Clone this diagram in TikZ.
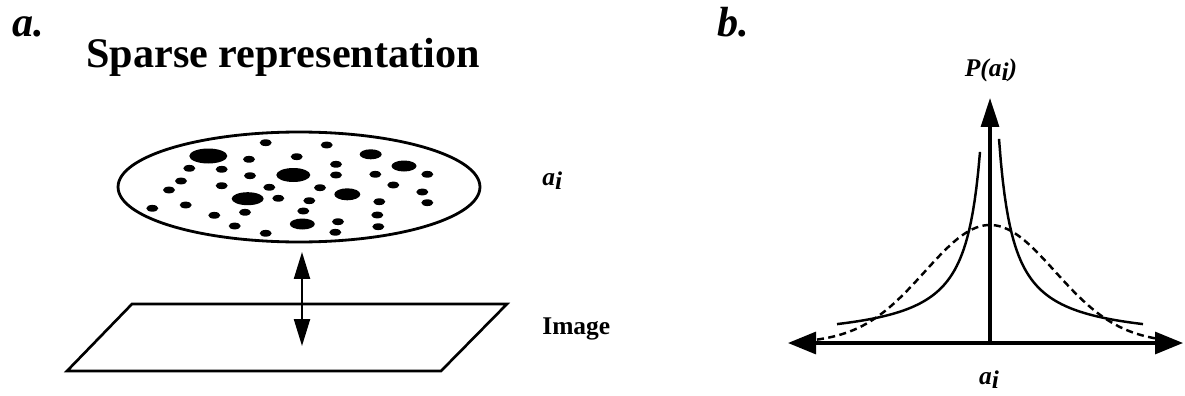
\documentclass[tikz,border=0pt]{standalone}
\usepackage{fontspec}
\setmainfont{Liberation Serif}
\usepackage{tikz}
\usetikzlibrary{arrows.meta,positioning,shapes.geometric}
\newcommand{\coefa}{a\raisebox{-0.35ex}{i}}
\tikzset{
  panellabel/.style={inner sep=0pt,anchor=base west,
    font=\fontsize{24}{27}\selectfont\bfseries\itshape},
  titletext/.style={inner sep=0pt,anchor=base,
    font=\fontsize{24}{28}\selectfont\bfseries},
  smalllabel/.style={inner sep=0pt,anchor=base west,
    font=\fontsize{14.5}{16}\selectfont\bfseries\itshape},
  coefset/.style={draw,ellipse,line width=1.6pt,minimum width=7.24cm,
    minimum height=2.2cm,inner sep=0pt},
  planeline/.style={line width=1.5pt,line join=miter},
  linkarrow/.style={{Triangle[length=5.4mm,width=3.2mm]}-{Triangle[length=5.4mm,width=3.2mm]},
    line width=1.3pt},
  axisarrow/.style={line width=1.8pt},
  sparsecurve/.style={line width=1.4pt},
  gausscurve/.style={line width=1.4pt,dash pattern=on 4pt off 2.5pt}
}
\begin{document}
\begin{tikzpicture}[x=0.02cm,y=-0.02cm]
  \useasboundingbox (0,0) rectangle (1185,395);
  % panel a
  \node[panellabel] (labA) at (12,37) {a.};
  \node[titletext] (title) at (283,68) {Sparse representation};
  \node[coefset] (coef) at (299,187) {};
  \foreach \px/\py/\rx/\ry in {
    265.7/142.7/6/3.4, 326.7/145/6/3.4, 208.3/156/19/7.5, 249/159.3/6/3.4,
    296.7/156.7/6/3.4, 370.7/154.3/11/5, 189.3/168.3/6/3.4, 221.7/169.3/6/3.4,
    336/164.3/6/3.4, 404/166/12.5/5.5, 250/175.7/6/3.4, 293.3/175/17/7,
    336/175/6/3.4, 375.3/174.3/6/3.4, 427.3/174.3/6/3.4, 181/181/6/3.4,
    221.7/185.7/6/3.4, 269.3/187.3/6/3.4, 320/187.7/6/3.4, 393.3/185/6/3.4,
    169/190/6/3.4, 347.3/194.3/13/6, 422.3/192/6/3.4, 247.7/198.7/16/6.5,
    278.3/198.3/6/3.4, 309.3/200.7/6/3.4, 379.3/201.7/6/3.4, 427.3/202.7/6/3.4,
    152.3/208.3/6/3.4, 185.7/205/6/3.4, 245/212.3/6/3.4, 303.3/211/6/3.4,
    214.3/215.3/6/3.4, 377.3/215/6/3.4, 302.3/224/12.5/5.5, 338/221.7/6/3.4,
    234.7/226/6/3.4, 378.3/226.7/6/3.4, 265.7/233.3/6/3.4, 335.3/232.3/6/3.4}
    \fill (\px,\py) ellipse [x radius=\rx,y radius=\ry];
  \node[smalllabel] (coefLab) at (542,185) {\coefa};
  \coordinate (pTL) at (132,304);
  \coordinate (pTR) at (507,304);
  \coordinate (pBR) at (441,371);
  \coordinate (pBL) at (67,371);
  \draw[planeline] (pTL) -- (pTR) -- (pBR) -- (pBL) -- cycle;
  \node[smalllabel] (imgLab) at (542,334) {\upshape Image};
  \coordinate (linkTop) at (302,252);
  \coordinate (linkBot) at (302,346);
  \draw[linkarrow] (linkTop) -- (linkBot);
  % panel b
  \node[panellabel] (labB) at (717,37) {b.};
  \coordinate (orig) at (990,343);
  \coordinate (yTip) at (990,98);
  \coordinate (xLeft) at (788,343);
  \coordinate (xRight) at (1183,343);
  \draw[axisarrow,{Triangle[length=5.6mm,width=4.4mm]}-{Triangle[length=5.6mm,width=4.4mm]}]
    (xLeft) -- (xRight);
  \draw[axisarrow,-{Triangle[length=5.8mm,width=3.6mm]}] (orig) -- (yTip);
  \node[smalllabel,anchor=base] (pLab) at (991,76) {P(\coefa)};
  \node[smalllabel,anchor=base] (aLab) at (989,384) {\coefa};
  \draw[sparsecurve] plot[domain=-153:-10,samples=80] ({990+\x},{343-3000/(-\x+5.7)});
  \draw[sparsecurve] plot[domain=9:153,samples=80] ({990+\x},{343-3000/(\x+5.7)});
  \draw[gausscurve] plot[domain=-173:170,samples=120,smooth]
    ({990+\x},{343-118*exp(-(\x/100)^2/0.845)});
\end{tikzpicture}
\end{document}
